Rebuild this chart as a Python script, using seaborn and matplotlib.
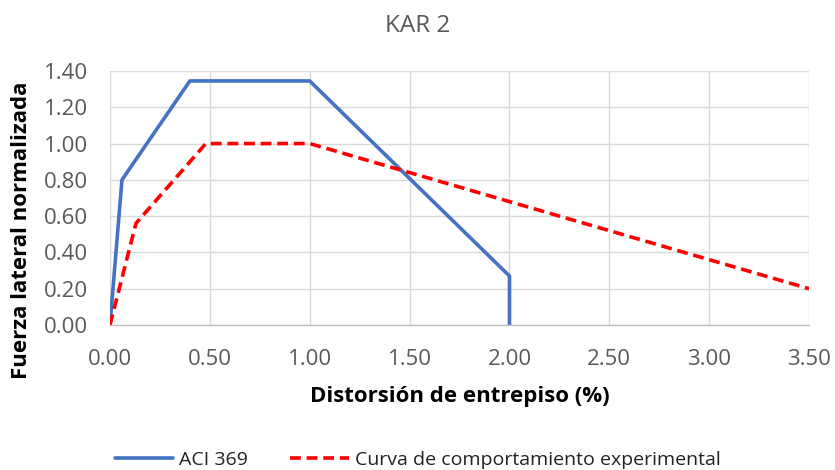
import matplotlib
matplotlib.use("Agg")
import matplotlib.pyplot as plt
import seaborn as sns
import pandas as pd

# Capacity curves: lateral force (normalized) vs. interstory drift (%)
aci_drift = [0.00, 0.06, 0.40, 1.00, 2.00, 2.00]
aci_force = [0.00, 0.80, 1.345, 1.345, 0.27, 0.00]

exp_drift = [0.00, 0.13, 0.48, 1.00, 3.50]
exp_force = [0.00, 0.56, 1.00, 1.00, 0.20]

x_ticks = [0.0, 0.5, 1.0, 1.5, 2.0, 2.5, 3.0, 3.5]
y_ticks = [0.0, 0.2, 0.4, 0.6, 0.8, 1.0, 1.2, 1.4]

sns.set_theme(style="white")
plt.rcParams["font.family"] = ["Open Sans", "DejaVu Sans"]

aci = pd.DataFrame({"drift": aci_drift, "force": aci_force})
exp = pd.DataFrame({"drift": exp_drift, "force": exp_force})

fig = plt.figure(figsize=(8.35, 4.70), dpi=100)
ax = fig.add_axes([0.1317, 0.3085, 0.8373, 0.5405])

sns.lineplot(data=aci, x="drift", y="force", sort=False, estimator=None,
             color="#4472C4", linewidth=2.6, label="ACI 369", ax=ax)
sns.lineplot(data=exp, x="drift", y="force", sort=False, estimator=None,
             color="#FF0000", linewidth=2.6, linestyle=(0, (3, 1.6)),
             label="Curva de comportamiento experimental", ax=ax)

ax.set_xlim(0, 3.5)
ax.set_ylim(0, 1.4)
ax.set_xticks(x_ticks)
ax.set_yticks(y_ticks)
ax.set_xticklabels([f"{v:.2f}" for v in x_ticks])
ax.set_yticklabels([f"{v:.2f}" for v in y_ticks])
ax.tick_params(axis="both", labelsize=16, colors="#595959", length=0)
ax.tick_params(axis="x", pad=17)
ax.tick_params(axis="y", pad=16)

ax.grid(True, color="#D9D9D9", linewidth=1.0)
ax.set_axisbelow(True)
for side in ["top", "right", "left"]:
    ax.spines[side].set_visible(False)
ax.spines["bottom"].set_color("#BFBFBF")
ax.spines["bottom"].set_linewidth(1.0)

ax.set_xlabel("Distorsión de entrepiso (%)", fontsize=16, fontweight="bold",
              color="black", labelpad=12)
ax.set_ylabel("Fuerza lateral normalizada", fontsize=16, fontweight="bold",
              color="black")
ax.yaxis.set_label_coords(-0.112, 0.374)

fig.suptitle("KAR 2", y=0.97, fontsize=17.5, color="#595959")

ax.get_legend().remove()
handles, labels = ax.get_legend_handles_labels()
fig.legend(handles, labels, loc="lower center", ncol=2, frameon=False,
           bbox_to_anchor=(0.5, -0.035), fontsize=14, handlelength=3.0,
           columnspacing=2.2, handletextpad=0.3, labelcolor="#222222")

fig.savefig("out.png", dpi=100)
